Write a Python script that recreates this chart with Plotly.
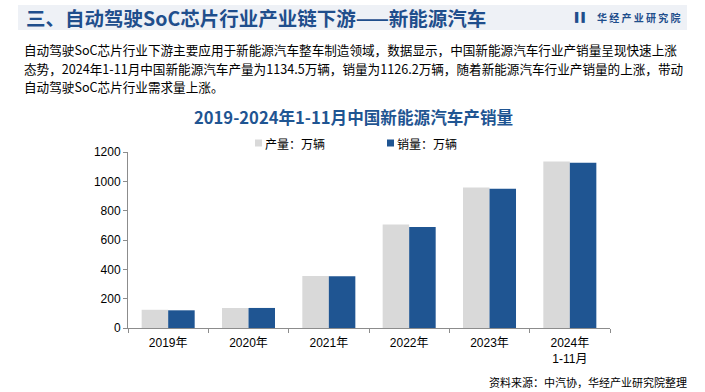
import plotly.graph_objects as go

categories = ["2019年", "2020年", "2021年", "2022年", "2023年", "2024年<br>1-11月"]
production = [124.2, 136.6, 354.5, 705.8, 958.7, 1134.5]
sales = [120.6, 136.7, 352.1, 688.7, 949.5, 1126.2]
series_names = ["产量：万辆", "销量：万辆"]
y_ticks = [0, 200, 400, 600, 800, 1000, 1200]

header_title = "三、自动驾驶SoC芯片行业产业链下游——新能源汽车"
body_lines = [
    "自动驾驶SoC芯片行业下游主要应用于新能源汽车整车制造领域，数据显示，中国新能源汽车行业产销量呈现快速上涨",
    "态势，2024年1-11月中国新能源汽车产量为1134.5万辆，销量为1126.2万辆，随着新能源汽车行业产销量的上涨，带动",
    "自动驾驶SoC芯片行业需求量上涨。",
]
chart_title = "2019-2024年1-11月中国新能源汽车产销量"
source_text = "资料来源：中汽协，华经产业研究院整理"
logo_text = "华 经 产 业 研 究 院"

CJK = "Noto Sans CJK SC"
NUM = "Liberation Sans, Noto Sans CJK SC"
BLUE = "#1F5592"
GRAY = "#D9D9D9"
colors = [GRAY, BLUE]

L, R, T, B, W, H = 128, 95, 152, 64, 705, 392
PW, PH = W - L - R, H - T - B


def px(x):
    return (x - L) / PW


def py(y):
    return (H - B - y) / PH


fig = go.Figure()
for name, vals, c in zip(series_names, [production, sales], colors):
    fig.add_trace(go.Bar(x=categories, y=vals, name=name,
                         marker=dict(color=c, line=dict(width=0))))

fig.update_layout(
    width=W, height=H,
    margin=dict(l=L, r=R, t=T, b=B),
    paper_bgcolor="white", plot_bgcolor="white",
    barmode="group", bargap=0.34, bargroupgap=0,
    font=dict(family=NUM, size=12, color="#000000"),
    showlegend=False,
    xaxis=dict(showline=True, linecolor="#8C8C8C", linewidth=1, automargin=False,
               ticks="outside", tickson="boundaries", ticklen=4, tickcolor="#8C8C8C",
               ticklabelstandoff=4,
               tickfont=dict(family=NUM, size=12, color="#000000"),
               showgrid=False, zeroline=False, fixedrange=True),
    yaxis=dict(range=[0, 1200], tickvals=y_ticks, showline=True, linecolor="#8C8C8C",
               linewidth=1, ticks="outside", ticklen=4, tickcolor="#8C8C8C", automargin=False,
               tickfont=dict(family=NUM, size=12, color="#000000"),
               showgrid=False, zeroline=False, fixedrange=True),
)

# manual legend
legend_x = [255, 387]
for name, c, lx in zip(series_names, colors, legend_x):
    fig.add_shape(type="rect", xref="paper", yref="paper",
                  x0=px(lx), x1=px(lx + 7), y0=py(146.5), y1=py(139.5),
                  line=dict(width=0), fillcolor=c)
    fig.add_annotation(text=name, xref="paper", yref="paper",
                       x=px(lx + 8), y=py(143), xanchor="left", yanchor="middle",
                       showarrow=False, font=dict(family=CJK, size=12, color="#000000"))

# header band
fig.add_shape(type="rect", xref="paper", yref="paper",
              x0=px(18), x1=px(687), y0=py(30), y1=py(5),
              line=dict(width=0), fillcolor="#EEF1F6", layer="below")
fig.add_annotation(text="<b>" + header_title + "</b>", xref="paper", yref="paper",
                   x=px(24), y=py(17.5), xanchor="left", yanchor="middle",
                   showarrow=False, font=dict(family=CJK, size=19.5, color="#1F4E8C"))
fig.add_annotation(text="<b>" + logo_text + "</b>", xref="paper", yref="paper",
                   x=px(683), y=py(17), xanchor="right", yanchor="middle",
                   showarrow=False, font=dict(family=CJK, size=10, color="#1F4E8C"))
fig.add_annotation(text="<b>▌▌</b>", xref="paper", yref="paper",
                   x=px(581), y=py(17), xanchor="center", yanchor="middle",
                   showarrow=False, font=dict(family=NUM, size=9, color="#1F4E8C"))

# body text
for i, line in enumerate(body_lines):
    fig.add_annotation(text=line, xref="paper", yref="paper",
                       x=px(22), y=py(49 + 19 * i), xanchor="left", yanchor="middle",
                       showarrow=False, font=dict(family=CJK, size=12.6, color="#000000"))

# chart title
fig.add_annotation(text="<b>" + chart_title + "</b>", xref="paper", yref="paper",
                   x=px(353), y=py(117), xanchor="center", yanchor="middle",
                   showarrow=False, font=dict(family=CJK, size=16.6, color=BLUE))

# source
fig.add_annotation(text=source_text, xref="paper", yref="paper",
                   x=px(689), y=py(381.5), xanchor="right", yanchor="middle",
                   showarrow=False, font=dict(family=CJK, size=11, color="#000000"))

fig.write_html("out.html", config={"displayModeBar": False},
               post_script="document.body.style.margin='0';")
